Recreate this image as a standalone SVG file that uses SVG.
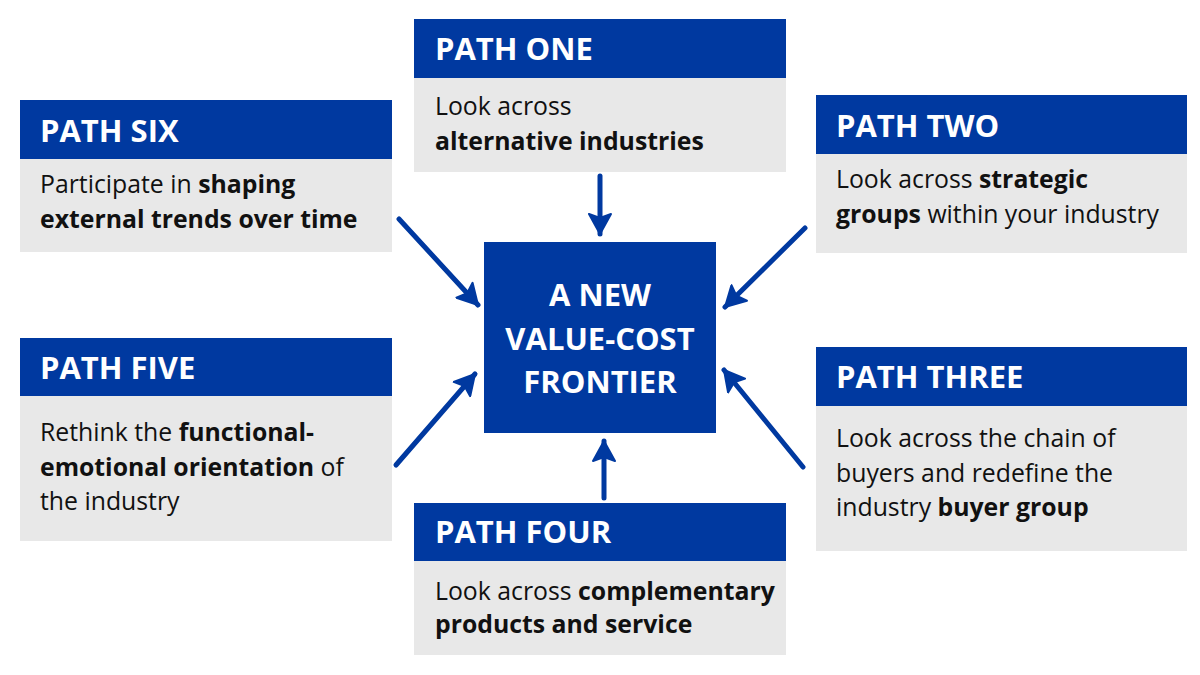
<svg xmlns="http://www.w3.org/2000/svg" width="1200" height="675" viewBox="0 0 1200 675">
<style>
.hd{fill:#0039a0}
.bd{fill:#e8e8e8}
.ht{font-family:"Open Sans","Liberation Sans",sans-serif;font-weight:700;font-size:31px;fill:#fff}
.tx{font-family:"Open Sans","Liberation Sans",sans-serif;font-size:24.8px;fill:#111}
.b{font-weight:700}
.ct{font-family:"Open Sans","Liberation Sans",sans-serif;font-weight:700;font-size:31px;fill:#fff;text-anchor:middle}
.cn{stroke:#0039a0;stroke-width:5;fill:none;stroke-linecap:round;marker-end:url(#ah)}
</style>
<defs>
<marker id="ah" markerUnits="userSpaceOnUse" markerWidth="24" markerHeight="24" viewBox="0 0 24 24" refX="22" refY="12" orient="auto">
<path d="M2,1 L22,12 L2,23 L6,12 Z" fill="#0039a0" stroke="#0039a0" stroke-width="2" stroke-linejoin="round"/>
</marker>
</defs>
<rect width="1200" height="675" fill="#fff"/>
<g id="connectors">
<line class="cn" x1="600" y1="176" x2="600" y2="234"/>
<line class="cn" x1="805" y1="228" x2="725" y2="307"/>
<line class="cn" x1="803" y1="467" x2="724" y2="370"/>
<line class="cn" x1="604" y1="498" x2="604" y2="441"/>
<line class="cn" x1="396" y1="465" x2="475" y2="374"/>
<line class="cn" x1="399" y1="219" x2="478" y2="305"/>
</g>
<g id="center">
<rect x="484" y="242" width="232" height="191" class="hd"/>
<text class="ct" x="600" y="306">A NEW</text>
<text class="ct" x="600" y="350">VALUE-COST</text>
<text class="ct" x="600" y="393">FRONTIER</text>
</g>
<g id="path-one">
<rect x="414" y="19" width="372" height="59" class="hd"/>
<rect x="414" y="78" width="372" height="94" class="bd"/>
<text class="ht" x="435" y="60">PATH ONE</text>
<text class="tx" x="435" y="115">Look across</text>
<text class="tx b" x="435" y="150">alternative industries</text>
</g>
<g id="path-two">
<rect x="816" y="95" width="371" height="59" class="hd"/>
<rect x="816" y="154" width="371" height="99" class="bd"/>
<text class="ht" x="836" y="137">PATH TWO</text>
<text class="tx" x="836" y="188">Look across <tspan class="b">strategic</tspan></text>
<text class="tx" x="836" y="223"><tspan class="b">groups</tspan> within your industry</text>
</g>
<g id="path-three">
<rect x="816" y="347" width="371" height="59" class="hd"/>
<rect x="816" y="406" width="371" height="145" class="bd"/>
<text class="ht" x="836" y="388">PATH THREE</text>
<text class="tx" x="836" y="447">Look across the chain of</text>
<text class="tx" x="836" y="482">buyers and redefine the</text>
<text class="tx" x="836" y="516">industry <tspan class="b">buyer group</tspan></text>
</g>
<g id="path-four">
<rect x="414" y="503" width="372" height="58" class="hd"/>
<rect x="414" y="561" width="372" height="94" class="bd"/>
<text class="ht" x="435" y="543">PATH FOUR</text>
<text class="tx" x="435" y="600">Look across <tspan class="b">complementary</tspan></text>
<text class="tx b" x="435" y="633">products and service</text>
</g>
<g id="path-five">
<rect x="20" y="338" width="372" height="58" class="hd"/>
<rect x="20" y="396" width="372" height="145" class="bd"/>
<text class="ht" x="40" y="379">PATH FIVE</text>
<text class="tx" x="40" y="441">Rethink the <tspan class="b">functional-</tspan></text>
<text class="tx" x="40" y="476"><tspan class="b">emotional orientation</tspan> of</text>
<text class="tx" x="40" y="510">the industry</text>
</g>
<g id="path-six">
<rect x="20" y="100" width="372" height="59" class="hd"/>
<rect x="20" y="159" width="372" height="93" class="bd"/>
<text class="ht" x="40" y="142">PATH SIX</text>
<text class="tx" x="40" y="193">Participate in <tspan class="b">shaping</tspan></text>
<text class="tx b" x="40" y="228">external trends over time</text>
</g>
</svg>
